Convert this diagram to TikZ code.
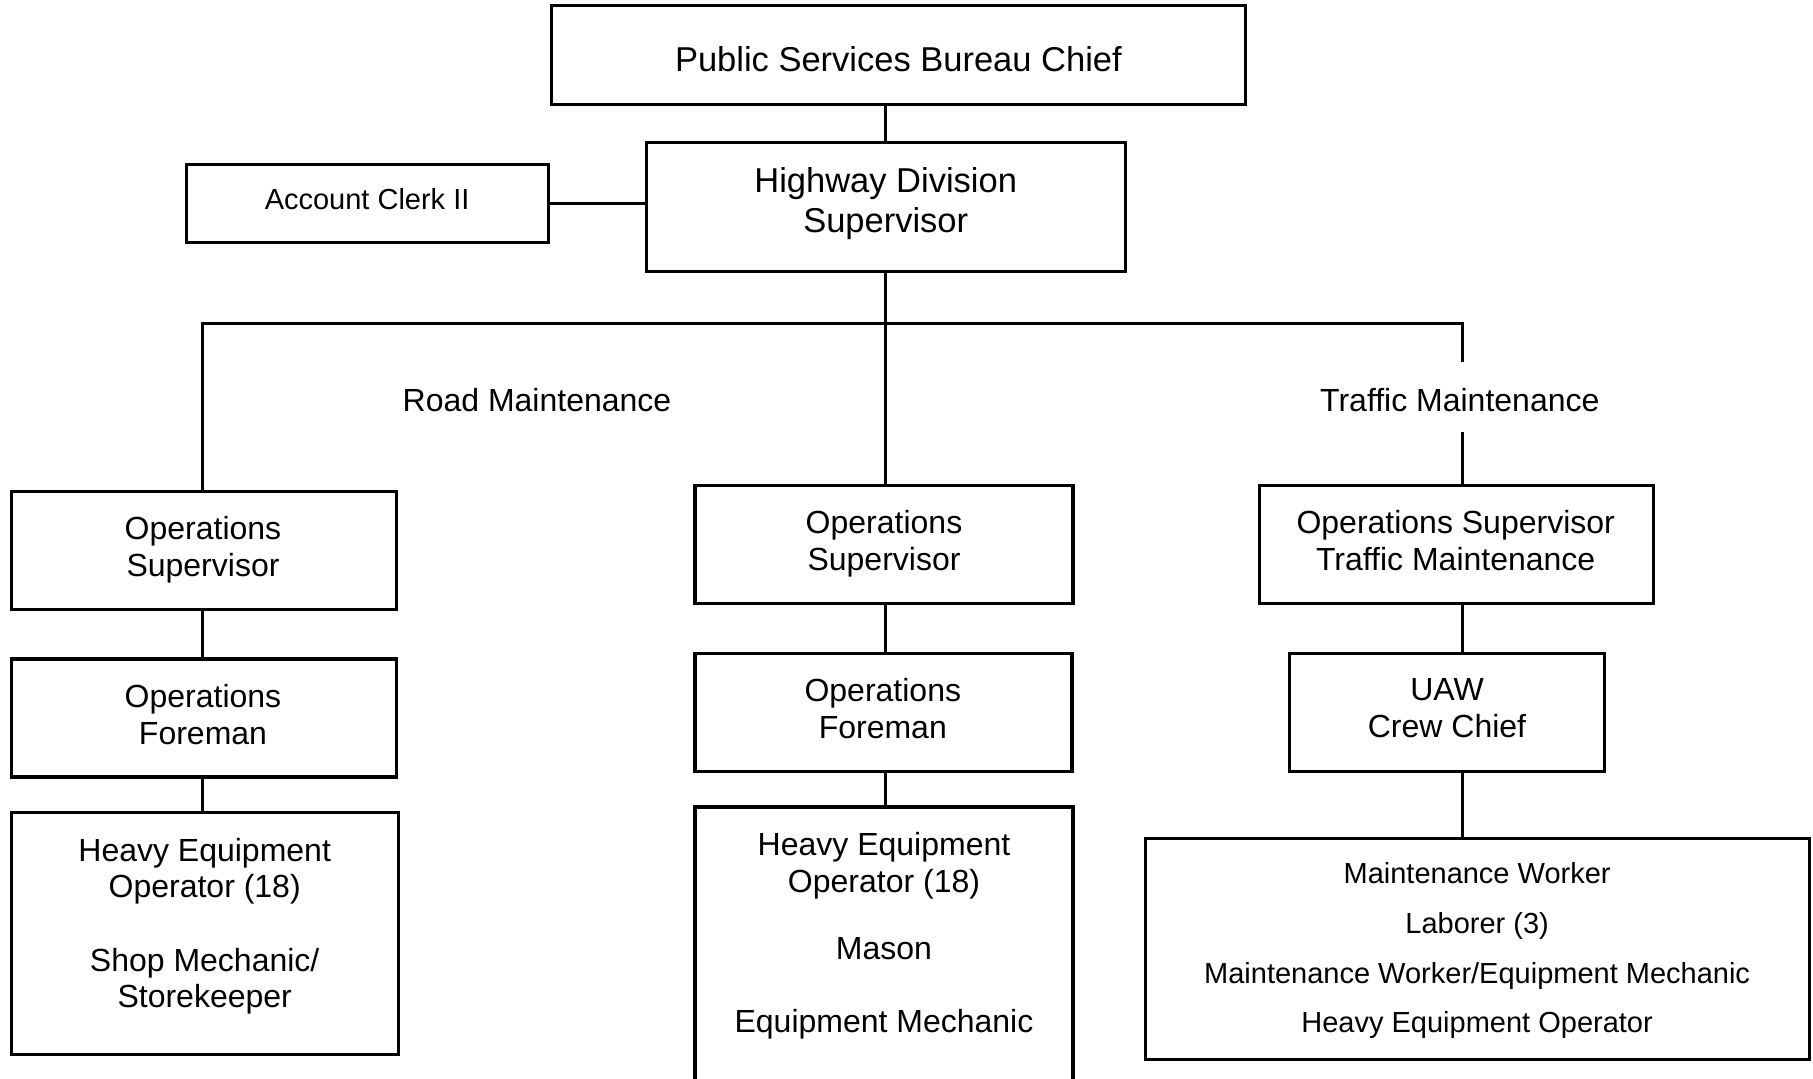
\documentclass[tikz,border=0pt]{standalone}
\usepackage{fontspec}
\setmainfont{Liberation Sans}
\begin{document}
\begin{tikzpicture}[x=1pt,y=-1pt,
  box/.style={draw,line width=3.1pt,inner sep=0pt},
  txt/.style={anchor=north,inner sep=0pt,align=center},
  conn/.style={line width=3.1pt},
  fbig/.style={font=\fontsize{34.5}{39.5}\selectfont},
  fmid/.style={font=\fontsize{32}{37}\selectfont},
  fsmall/.style={font=\fontsize{29}{49.7}\selectfont}]
\fill[white] (0,0) rectangle (1813,1079);
\clip (0,0) rectangle (1813,1079);

% boxes
\node[box,minimum width=694,minimum height=98.3] (top) at (898.4,55) {};
\node[box,minimum width=478.7,minimum height=129.5] (hds) at (885.7,207) {};
\node[box,minimum width=362,minimum height=78.6] (acc) at (367.1,203.5) {};
\node[box,minimum width=385,minimum height=118] (lsup) at (204.1,550.4) {};
\node[box,minimum width=385,minimum height=118] (lfor) at (204.1,718) {};
\node[box,minimum width=387.3,minimum height=241.7] (lbot) at (205.2,933.6) {};
\node[box,minimum width=378,minimum height=118] (msup) at (884,544.6) {};
\node[box,minimum width=377,minimum height=118] (mfor) at (883.5,712.2) {};
\node[box,minimum width=378,minimum height=293] (mbot) at (884,953.5) {};
\node[box,minimum width=394.3,minimum height=118] (rsup) at (1456.3,544.6) {};
\node[box,minimum width=315.7,minimum height=118] (uaw) at (1447,712.2) {};
\node[box,minimum width=663.7,minimum height=220.8] (rbot) at (1477.7,948.7) {};

% texts
\node[txt,fbig] (top-t) at (898.4,46.6) {Public Services Bureau Chief};
\node[txt,fbig] (hds-t) at (885.7,167.5) {Highway Division\\Supervisor};
\node[txt,font=\fontsize{29}{34}\selectfont] (acc-t) at (367.1,188.5) {Account Clerk II};
\node[txt,fmid] (road-t) at (537,388) {Road Maintenance};
\node[txt,fmid] (traf-t) at (1459.8,388) {Traffic Maintenance};
\node[txt,fmid] (lsup-t) at (203,516) {Operations\\Supervisor};
\node[txt,fmid] (lfor-t) at (203,684) {Operations\\Foreman};
\node[txt,font=\fontsize{32}{36.5}\selectfont] (lbot-t) at (204.7,838)
  {Heavy Equipment\\Operator (18)\\[37pt]Shop Mechanic/\\Storekeeper};
\node[txt,fmid] (msup-t) at (884,510) {Operations\\Supervisor};
\node[txt,fmid] (mfor-t) at (882.8,678) {Operations\\Foreman};
\node[txt,fmid] (mbot-t) at (884,832)
  {Heavy Equipment\\Operator (18)\\[30pt]Mason\\[36pt]Equipment Mechanic};
\node[txt,fmid] (rsup-t) at (1455.7,510) {Operations Supervisor\\Traffic Maintenance};
\node[txt,fmid] (uaw-t) at (1447,678) {UAW\\Crew Chief};
\node[txt,fsmall] (rbot-t) at (1477.1,862.6)
  {Maintenance Worker\\Laborer (3)\\Maintenance Worker/Equipment Mechanic\\Heavy Equipment Operator};

% connector reference points
\coordinate (lx) at (202.5,0);
\coordinate (rx) at (1462.7,0);
\coordinate (busy) at (0,323.5);
\coordinate (tgapA) at (1462.7,361.9);
\coordinate (tgapB) at (1462.7,432.4);

% connectors
\draw[conn] (top.south -| hds.north) -- (hds.north);
\draw[conn] (acc.east) -- (acc.east -| hds.west);
\draw[conn] (hds.south) -- (hds.south |- msup.north);
\draw[conn] (lsup.north -| lx) -- (lx |- busy) -- (rx |- busy) -- (tgapA);
\draw[conn] (tgapB) -- (tgapB |- rsup.north);
\draw[conn] (lsup.south -| lx) -- (lfor.north -| lx);
\draw[conn] (lfor.south -| lx) -- (lbot.north -| lx);
\draw[conn] (msup.south -| hds.south) -- (mfor.north -| hds.south);
\draw[conn] (mfor.south -| hds.south) -- (mbot.north -| hds.south);
\draw[conn] (rsup.south -| rx) -- (uaw.north -| rx);
\draw[conn] (uaw.south -| rx) -- (rbot.north -| rx);
\end{tikzpicture}
\end{document}
